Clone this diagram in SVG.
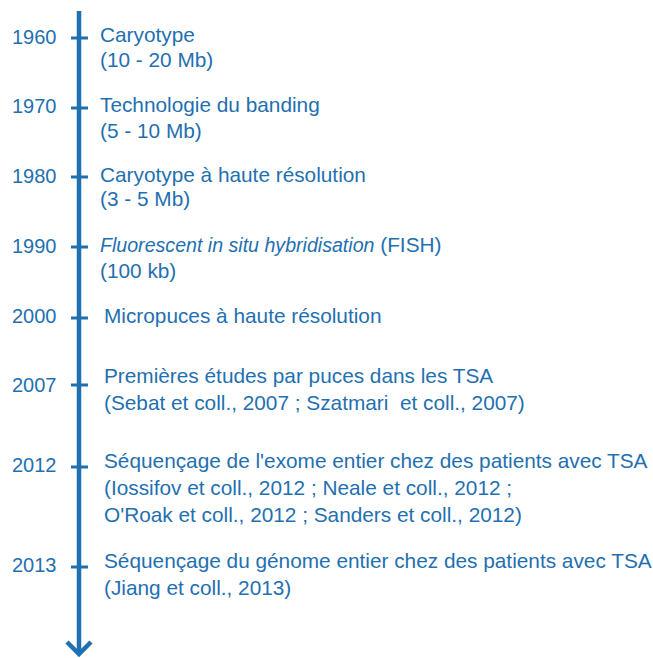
<svg xmlns="http://www.w3.org/2000/svg" width="653" height="658" viewBox="0 0 653 658">
<style>
text{font-family:"Liberation Sans",Arial,sans-serif;font-size:20.8px;fill:#1f70b1}
.yr{font-size:20px}
.it{font-style:italic;font-size:19.6px}
.tick{stroke:#1f70b1;stroke-width:3}
.axis{stroke:#1f70b1;stroke-width:4.5;fill:none}
</style>
<rect width="653" height="658" fill="#fff"/>
<g id="connectors">
<line class="axis" x1="79" y1="11" x2="79" y2="652"/>
<polyline class="axis" points="67,642 79,654 91,642" stroke-linejoin="miter"/>
</g>
<g id="n1960"><line class="tick" x1="71" y1="38" x2="88" y2="38"/><text class="yr" x="12" y="44">1960</text><text x="100" y="42">Caryotype</text><text x="100" y="67">(10 - 20 Mb)</text></g>
<g id="n1970"><line class="tick" x1="71" y1="108" x2="88" y2="108"/><text class="yr" x="12" y="113">1970</text><text x="100" y="112">Technologie du banding</text><text x="100" y="138">(5 - 10 Mb)</text></g>
<g id="n1980"><line class="tick" x1="71" y1="177" x2="88" y2="177"/><text class="yr" x="12" y="183">1980</text><text x="100" y="182">Caryotype à haute résolution</text><text x="100" y="206">(3 - 5 Mb)</text></g>
<g id="n1990"><line class="tick" x1="71" y1="247" x2="88" y2="247"/><text class="yr" x="12" y="253">1990</text><text x="100" y="252"><tspan class="it">Fluorescent in situ hybridisation</tspan> (FISH)</text><text x="100" y="278">(100 kb)</text></g>
<g id="n2000"><line class="tick" x1="71" y1="318" x2="88" y2="318"/><text class="yr" x="12" y="323">2000</text><text x="104" y="323">Micropuces à haute résolution</text></g>
<g id="n2007"><line class="tick" x1="71" y1="385" x2="88" y2="385"/><text class="yr" x="12" y="392">2007</text><text x="104" y="383">Premières études par puces dans les TSA</text><text x="104" y="410" xml:space="preserve">(Sebat et coll., 2007 ; Szatmari  et coll., 2007)</text></g>
<g id="n2012"><line class="tick" x1="71" y1="467" x2="88" y2="467"/><text class="yr" x="12" y="472">2012</text><text x="104" y="468">Séquençage de l'exome entier chez des patients avec TSA</text><text x="104" y="495">(Iossifov et coll., 2012 ; Neale et coll., 2012 ;</text><text x="104" y="522">O'Roak et coll., 2012 ; Sanders et coll., 2012)</text></g>
<g id="n2013"><line class="tick" x1="71" y1="567" x2="88" y2="567"/><text class="yr" x="12" y="572">2013</text><text x="104" y="568">Séquençage du génome entier chez des patients avec TSA</text><text x="104" y="595">(Jiang et coll., 2013)</text></g>
</svg>
